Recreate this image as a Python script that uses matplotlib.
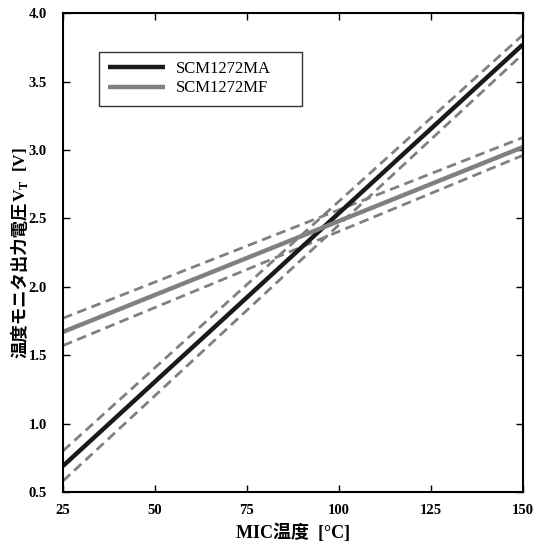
import matplotlib
matplotlib.use("Agg")
import matplotlib.pyplot as plt

plt.rcParams['font.family'] = ['Liberation Serif', 'Noto Sans CJK JP']
plt.rcParams['mathtext.fontset'] = 'custom'
plt.rcParams['mathtext.rm'] = 'Liberation Serif'
plt.rcParams['mathtext.bf'] = 'Liberation Serif:bold'

# temperature endpoints [degC]
temp = [25, 150]

# SCM1272MA: typ, max, min
ma_typ = [0.69, 3.77]
ma_max = [0.80, 3.84]
ma_min = [0.58, 3.70]

# SCM1272MF: typ, max, min
mf_typ = [1.67, 3.02]
mf_max = [1.77, 3.09]
mf_min = [1.57, 2.96]

xticks = [25, 50, 75, 100, 125, 150]
yticks = [0.5, 1.0, 1.5, 2.0, 2.5, 3.0, 3.5, 4.0]

fig = plt.figure(figsize=(5.34, 5.46), dpi=100)
ax = fig.add_axes([0.118, 0.099, 0.861, 0.877])

dash = dict(color='#808080', lw=2, ls=(0, (3.5, 2)))
ax.plot(temp, ma_max, **dash)
ax.plot(temp, ma_min, **dash)
ax.plot(temp, mf_max, **dash)
ax.plot(temp, mf_min, **dash)
ax.plot(temp, ma_typ, color='#1a1a1a', lw=3.2, label='SCM1272MA', solid_capstyle='butt')
ax.plot(temp, mf_typ, color='#808080', lw=3.2, label='SCM1272MF', solid_capstyle='butt')

ax.set_xlim(25, 150)
ax.set_ylim(0.5, 4.0)
ax.set_xticks(xticks)
ax.set_yticks(yticks)
ax.set_xticklabels([str(v) for v in xticks], fontweight='bold', fontsize=10.5)
ax.set_yticklabels(['%.1f' % v for v in yticks], fontweight='bold', fontsize=10.5)
ax.tick_params(direction='in', top=True, right=True, length=5, width=1)
ax.tick_params(axis='x', pad=9)
ax.tick_params(axis='y', pad=11.5)
for s in ax.spines.values():
    s.set_linewidth(1.5)

ax.set_xlabel('MIC温度  [°C]', fontweight='bold', fontsize=13, labelpad=4)

# y label in two pieces: CJK part (font fallback) + V_T part (mathtext subscript)
yl1 = fig.text(0.047, 0, '温度モニタ出力電圧', rotation=90, rotation_mode='anchor',
               ha='left', va='baseline', fontweight='bold', fontsize=12.5)
yl2 = fig.text(0.047, 0, r'V$_\mathregular{T}$  [V]', rotation=90, rotation_mode='anchor',
               ha='left', va='baseline', fontweight='bold', fontsize=12.5)
fig.canvas.draw()
r = fig.canvas.get_renderer()
h1 = yl1.get_window_extent(r).height / fig.bbox.height
h2 = yl2.get_window_extent(r).height / fig.bbox.height
yc = 0.099 + 0.877 / 2
y0 = yc - (h1 + h2) / 2
yl1.set_y(y0)
yl2.set_y(y0 + h1)

leg = ax.legend(loc='upper left', bbox_to_anchor=(0.078, 0.5, 0.441, 0.419), mode='expand',
                borderaxespad=0, fancybox=False, edgecolor='black', fontsize=12,
                handlelength=3.4, handletextpad=0.7, borderpad=0.55, labelspacing=0.2)
leg.get_frame().set_linewidth(1.0)

fig.savefig('out.png', dpi=100)
